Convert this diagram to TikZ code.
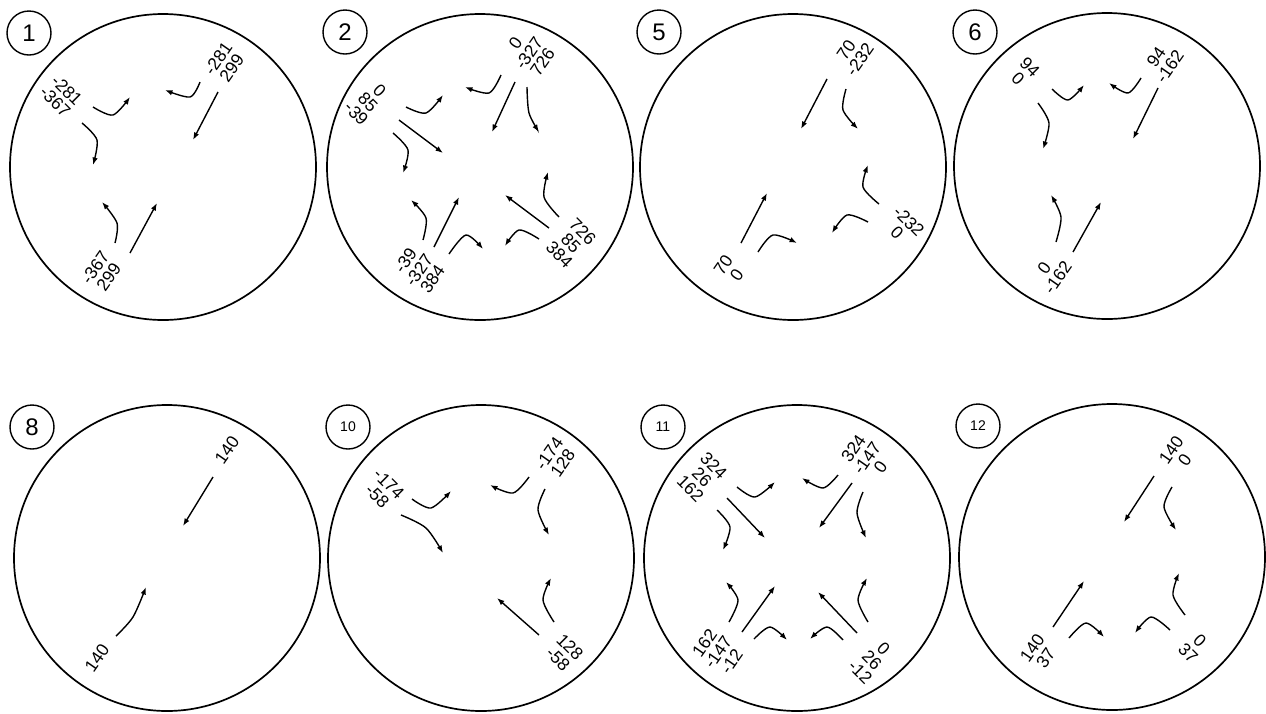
\documentclass[tikz,border=0pt]{standalone}
\usepackage{fontspec}
\setmainfont{Liberation Sans}
\usetikzlibrary{arrows.meta}
\tikzset{
    x={1pt},
    y={-1pt},
    cell/.style={
        draw, circle,
        line width={1.7pt},
        inner sep=0pt,
        minimum size={306},
    },
    panel number/.style={
        draw, circle,
        line width={1.4pt},
        inner sep=0pt,
        minimum size={44},
        font={\fontsize{24}{24}\selectfont},
    },
    small panel number/.style={
        panel number,
        font={\fontsize{14}{14}\selectfont},
    },
    value label/.style={
        align=center,
        inner sep=0pt,
        font={\fontsize{17.5}{16.5}\selectfont},
        rotate={#1},
    },
    rising label/.style={value label=55},
    falling label/.style={value label=-45},
    flow/.style={
        draw,
        line width={1.4pt},
        -{Latex[length=7.5pt,width=5.5pt]},
    },
}

\begin{document}
\begin{tikzpicture}
\useasboundingbox (0,0) rectangle (1266,713);
% cells
\node[cell] (c1) at (163,167) {};
\node[cell] (c2) at (480,167) {};
\node[cell] (c5) at (793,167) {};
\node[cell] (c6) at (1107,166) {};
\node[cell] (c8) at (167,558) {};
\node[cell] (c10) at (481,558) {};
\node[cell] (c11) at (797,558) {};
\node[cell] (c12) at (1112,557) {};
% panel numbers
\node[panel number, fill=white] (n1) at (29,33) {1};
\node[panel number, fill=white] (n2) at (345,32) {2};
\node[panel number, fill=white] (n5) at (659,32) {5};
\node[panel number, fill=white] (n6) at (975,32) {6};
\node[panel number, fill=white] (n8) at (32,427) {8};
\node[small panel number, fill=white] (n10) at (348,427) {10};
\node[small panel number, fill=white] (n11) at (663,427) {11};
\node[small panel number, fill=white] (n12) at (978,426) {12};
% cell 1
\node[falling label] (l1tl) at (61,96) {-281\\-367};
\node[rising label] (l1tr) at (225,63) {-281\\299};
\node[rising label] (l1bl) at (102,272) {-367\\299};
\draw[flow] plot[smooth] coordinates {(93,107) (113,115) (130,97)};
\draw[flow] plot[smooth] coordinates {(200,82) (190,97) (165,90)};
\draw[flow] (218,92) -- (193,140);
\draw[flow] plot[smooth] coordinates {(82,123) (97,140) (93,165)};
\draw[flow] plot[smooth] coordinates {(115,243) (117,223) (102,202)};
\draw[flow] (130,253) -- (157,203);
% cell 2
\node[falling label] (l2tl) at (368,102) {0\\85\\-39};
\node[rising label] (l2tr) at (529,53) {0\\-327\\726};
\node[rising label] (l2bl) at (419,270) {-39\\-327\\384};
\node[falling label] (l2br) at (571,243) {726\\85\\384};
\draw[flow] plot[smooth] coordinates {(406,107) (426,113) (443,95)};
\draw[flow] (399,120) -- (443,153);
\draw[flow] plot[smooth] coordinates {(393,133) (408,150) (403,173)};
\draw[flow] plot[smooth] coordinates {(501,75) (489,93) (465,87)};
\draw[flow] (515,82) -- (492,132);
\draw[flow] plot[smooth] coordinates {(527,87) (529,113) (539,132)};
\draw[flow] plot[smooth] coordinates {(559,217) (544,197) (548,172)};
\draw[flow] (549,228) -- (505,195);
\draw[flow] plot[smooth] coordinates {(539,239) (519,230) (505,246)};
\draw[flow] plot[smooth] coordinates {(423,240) (426,218) (411,200)};
\draw[flow] (434,247) -- (459,197);
\draw[flow] plot[smooth] coordinates {(449,254) (466,235) (483,249)};
% cell 5
\node[rising label] (l5tr) at (853,55) {70\\-232};
\node[falling label] (l5br) at (903,227) {-232\\0};
\node[rising label] (l5bl) at (730,270) {70\\0};
\draw[flow] (827,79) -- (801,129);
\draw[flow] plot[smooth] coordinates {(846,89) (843,110) (858,129)};
\draw[flow] plot[smooth] coordinates {(879,204) (863,187) (868,165)};
\draw[flow] plot[smooth] coordinates {(868,222) (847,215) (832,233)};
\draw[flow] (741,243) -- (767,193);
\draw[flow] plot[smooth] coordinates {(758,252) (773,235) (797,243)};
% cell 6
\node[falling label] (l6tl) at (1024,73) {94\\0};
\node[rising label] (l6tr) at (1163,62) {94\\-162};
\node[rising label] (l6bl) at (1051,273) {0\\-162};
\draw[flow] plot[smooth] coordinates {(1052,89) (1068,100) (1084,85)};
\draw[flow] plot[smooth] coordinates {(1141,78) (1128,93) (1109,83)};
\draw[flow] (1158,88) -- (1133,139);
\draw[flow] plot[smooth] coordinates {(1038,103) (1049,123) (1043,149)};
\draw[flow] plot[smooth] coordinates {(1056,242) (1061,217) (1051,195)};
\draw[flow] (1073,252) -- (1101,202);
% cell 8
\node[rising label] (l8tr) at (227,450) {140};
\node[rising label] (l8bl) at (97,658) {140};
\draw[flow] (213,477) -- (183,526);
\draw[flow] plot[smooth] coordinates {(116,636) (133,617) (146,587)};
% cell 10
\node[falling label] (l10tl) at (383,490) {-174\\-58};
\node[rising label] (l10tr) at (556,458) {-174\\128};
\node[falling label] (l10br) at (564,653) {128\\-58};
\draw[flow] plot[smooth] coordinates {(412,499) (431,508) (451,491)};
\draw[flow] plot[smooth] coordinates {(401,515) (426,528) (443,553)};
\draw[flow] plot[smooth] coordinates {(529,477) (513,493) (490,485)};
\draw[flow] plot[smooth] coordinates {(545,489) (538,510) (549,535)};
\draw[flow] plot[smooth] coordinates {(554,622) (543,600) (551,578)};
\draw[flow] (539,635) -- (497,598);
% cell 11
\node[falling label] (l11tl) at (702,477) {324\\26\\162};
\node[rising label] (l11tr) at (867,458) {324\\-147\\0};
\node[rising label] (l11bl) at (718,652) {162\\-147\\-12};
\node[falling label] (l11br) at (872,660) {0\\26\\-12};
\draw[flow] plot[smooth] coordinates {(737,487) (755,497) (775,482)};
\draw[flow] (727,498) -- (765,538);
\draw[flow] plot[smooth] coordinates {(717,510) (730,527) (723,550)};
\draw[flow] plot[smooth] coordinates {(838,475) (823,488) (802,478)};
\draw[flow] (852,483) -- (819,528);
\draw[flow] plot[smooth] coordinates {(863,492) (857,513) (866,538)};
\draw[flow] plot[smooth] coordinates {(868,622) (858,600) (867,578)};
\draw[flow] (857,633) -- (818,592);
\draw[flow] plot[smooth] coordinates {(843,640) (827,627) (810,639)};
\draw[flow] plot[smooth] coordinates {(729,622) (738,600) (726,582)};
\draw[flow] (742,632) -- (775,586);
\draw[flow] plot[smooth] coordinates {(754,639) (770,627) (787,640)};
% cell 12
\node[rising label] (l12tr) at (1178,455) {140\\0};
\node[falling label] (l12br) at (1194,647) {0\\37};
\node[rising label] (l12bl) at (1039,653) {140\\37};
\draw[flow] (1154,476) -- (1124,522);
\draw[flow] plot[smooth] coordinates {(1172,487) (1164,507) (1176,530)};
\draw[flow] plot[smooth] coordinates {(1185,615) (1173,595) (1179,573)};
\draw[flow] plot[smooth] coordinates {(1170,630) (1151,617) (1135,633)};
\draw[flow] (1053,627) -- (1084,581);
\draw[flow] plot[smooth] coordinates {(1069,638) (1086,623) (1104,637)};
\end{tikzpicture}
\end{document}
